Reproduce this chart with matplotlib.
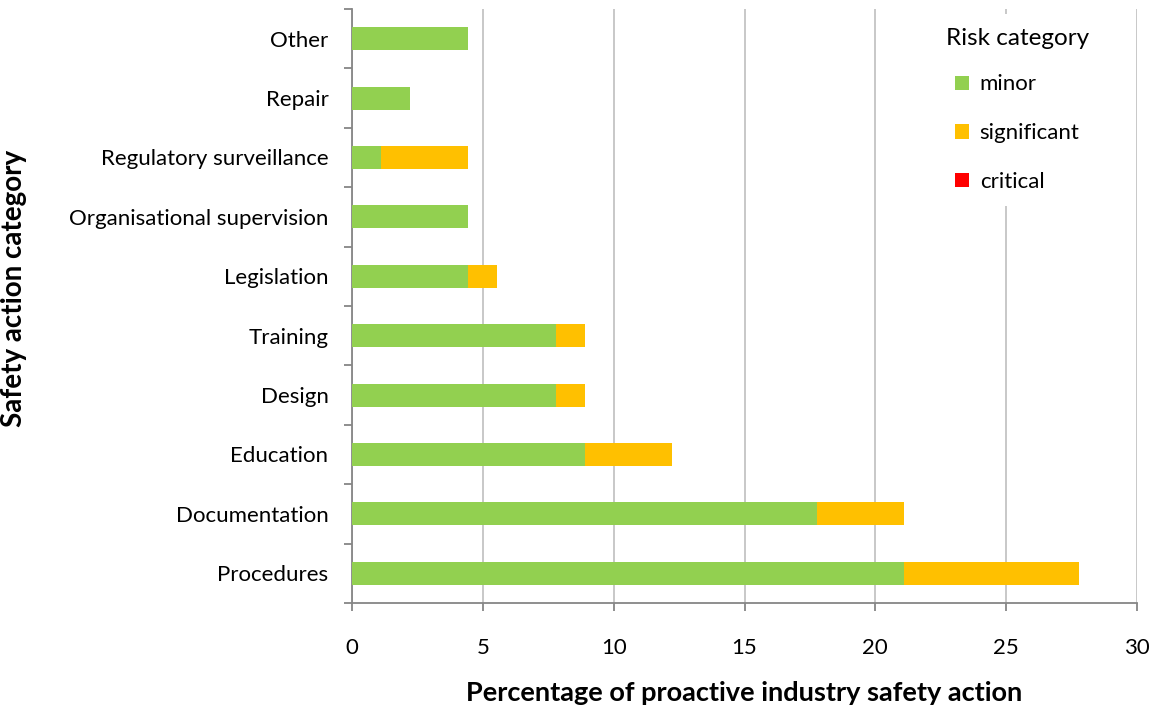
import matplotlib
matplotlib.use("Agg")
import matplotlib.pyplot as plt
from matplotlib.patches import Patch
import numpy as np

plt.rcParams['font.family'] = ['Lato', 'DejaVu Sans']

categories = ["Procedures", "Documentation", "Education", "Design", "Training",
              "Legislation", "Organisational supervision", "Regulatory surveillance",
              "Repair", "Other"]
minor = [21.11, 17.78, 8.89, 7.78, 7.78, 4.44, 4.44, 1.11, 2.22, 4.44]
significant = [6.67, 3.33, 3.33, 1.11, 1.11, 1.11, 0.0, 3.33, 0.0, 0.0]
critical = [0.0, 0.0, 0.0, 0.0, 0.0, 0.0, 0.0, 0.0, 0.0, 0.0]
series_names = ["minor", "significant", "critical"]
series_colors = ["#92D050", "#FFC000", "#FF0000"]
x_ticks = [0, 5, 10, 15, 20, 25, 30]

fig = plt.figure(figsize=(11.56, 7.11), dpi=100)
ax = fig.add_axes([352 / 1156, 1 - 603 / 711, (1137 - 352) / 1156, (603 - 9) / 711])

y = np.arange(len(categories))
left = np.zeros(len(categories))
for vals, col in zip([minor, significant, critical], series_colors):
    ax.barh(y, vals, left=left, height=0.39, color=col, zorder=3)
    left = left + np.array(vals)

ax.set_xlim(0, 30)
ax.set_ylim(-0.5, len(categories) - 0.5)
ax.set_xticks(x_ticks)
ax.set_xticklabels([str(t) for t in x_ticks])
ax.set_yticks(y)
ax.set_yticklabels(categories)
ax.set_yticks(np.arange(-0.5, len(categories), 1.0), minor=True)

ax.grid(axis='x', color='#BFBFBF', linewidth=1.2, zorder=0)
for s in ['top', 'right']:
    ax.spines[s].set_visible(False)
for s in ['left', 'bottom']:
    ax.spines[s].set_color('#868686')
    ax.spines[s].set_linewidth(1.3)

ax.tick_params(axis='y', which='major', length=0, pad=17, labelsize=16, colors='black')
ax.tick_params(axis='y', which='minor', length=6, width=1.3, color='#868686')
ax.tick_params(axis='x', which='major', length=6, width=1.3, color='#868686',
               pad=19, labelsize=16, labelcolor='black')

ax.set_xlabel("Percentage of proactive industry safety action", fontsize=19.5,
              fontweight='bold', labelpad=17)
ax.set_ylabel("Safety action category", fontsize=20, fontweight='bold')
ax.yaxis.set_label_coords(-0.414, 0.53)

handles = [Patch(facecolor=c, edgecolor='none') for c in series_colors]
leg = ax.legend(handles, series_names, title="Risk category", loc='upper right',
                bbox_to_anchor=(0.97, 1.01), frameon=True, fontsize=16,
                title_fontsize=17.5, handlelength=0.6, handleheight=0.6,
                labelspacing=1.3, handletextpad=0.5, borderpad=0.6,
                fancybox=False)
leg._legend_box.sep = 18.7
leg.get_frame().set_facecolor('white')
leg.get_frame().set_edgecolor('none')
leg.get_frame().set_alpha(1.0)
leg.set_zorder(5)

fig.savefig("out.png", dpi=100)
